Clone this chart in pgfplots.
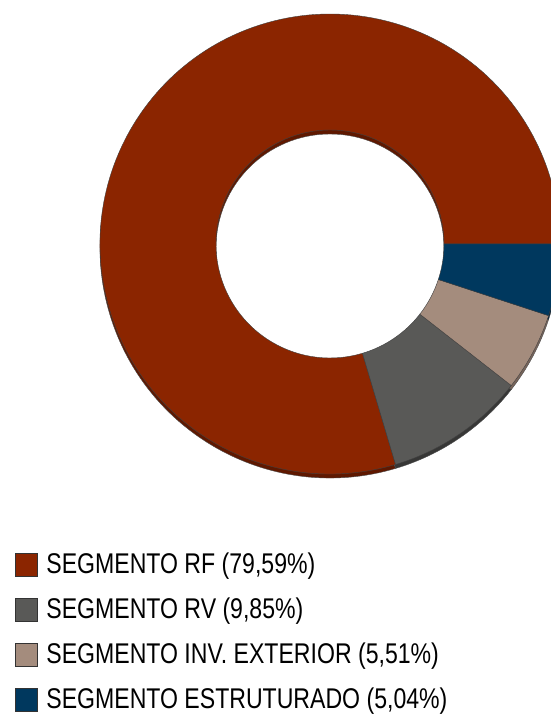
\documentclass[border=0pt]{standalone}
\usepackage{fontspec}
\setmainfont{Liberation Sans}[FakeStretch=0.81]
\usepackage{pgfplots}
\usepackage{pgfplotstable}
\pgfplotsset{compat=1.18}
\definecolor{cRF}{RGB}{139,37,0}
\definecolor{cRV}{RGB}{89,89,87}
\definecolor{cINV}{RGB}{164,140,125}
\definecolor{cEST}{RGB}{0,56,94}
\definecolor{dRF}{RGB}{95,24,0}
\definecolor{dRV}{RGB}{55,55,54}
\definecolor{dINV}{RGB}{120,100,90}
\definecolor{dEST}{RGB}{0,34,60}
\pgfplotstableread{
label value
RF 79.59
RV 9.85
INV 5.51
EST 5.04
}\datatable
\newcommand\getval[2]{\pgfplotstablegetelem{#1}{value}\of\datatable\let#2\pgfplotsretval}
% sector: start angle, end angle, style, y shift
\newcommand\sector[4]{%
  \path[#3] (axis cs:{330+230*cos(#1)},{471+#4+230*sin(#1)})
    arc[start angle=#1,end angle=#2,radius=230bp]
    -- (axis cs:{330+114*cos(#2)},{471+#4+114*sin(#2)})
    arc[start angle=#2,end angle=#1,radius=114bp] -- cycle;}
\begin{document}
\begin{tikzpicture}
\getval{0}\vRF \getval{1}\vRV \getval{2}\vINV \getval{3}\vEST
\pgfmathsetmacro\aA{0}
\pgfmathsetmacro\aB{\aA-3.6*\vEST}
\pgfmathsetmacro\aC{\aB-3.6*\vINV}
\pgfmathsetmacro\aD{\aC-3.6*\vRV}
\pgfmathsetmacro\aE{\aD-3.6*\vRF}
\begin{axis}[
  hide axis, scale only axis,
  x=1bp, y=1bp, xmin=0, xmax=551, ymin=0, ymax=715,
  at={(0,0)}, anchor=south west,
  legend image code/.code={\draw[#1] (0bp,-3bp) rectangle (22bp,20bp);},
  legend style={at={(axis description cs:0.02722,0.22727)}, anchor=north west,
    draw=none, fill=none, inner sep=0pt, outer sep=0pt, row sep=18bp,
    font=\fontsize{28.5bp}{32bp}\selectfont,
    nodes={inner sep=0pt, text height=21bp, text depth=6bp, anchor=base west},
    /tikz/every odd column/.append style={column sep=9bp}},
  legend cell align=left,
]
% depth (3D rim)
\sector{\aD}{\aE}{fill=dRF,draw=black!70,line width=0.4bp}{-4}
\sector{\aC}{\aD}{fill=dRV,draw=black!70,line width=0.4bp}{-4}
\sector{\aB}{\aC}{fill=dINV,draw=black!70,line width=0.4bp}{-4}
\sector{\aA}{\aB}{fill=dEST,draw=black!70,line width=0.4bp}{-4}
% top faces
\sector{\aD}{\aE}{fill=cRF,draw=black!75,line width=0.4bp}{0}
\sector{\aC}{\aD}{fill=cRV,draw=black!75,line width=0.4bp}{0}
\sector{\aB}{\aC}{fill=cINV,draw=black!75,line width=0.4bp}{0}
\sector{\aA}{\aB}{fill=cEST,draw=black!75,line width=0.4bp}{0}
\addlegendimage{fill=cRF,draw=black!80}
\addlegendentry{SEGMENTO RF (79,59\%)}
\addlegendimage{fill=cRV,draw=black!80}
\addlegendentry{SEGMENTO RV (9,85\%)}
\addlegendimage{fill=cINV,draw=black!80}
\addlegendentry{SEGMENTO INV. EXTERIOR (5,51\%)}
\addlegendimage{fill=cEST,draw=black!80}
\addlegendentry{SEGMENTO ESTRUTURADO (5,04\%)}
\end{axis}
\pgfresetboundingbox
\path[use as bounding box] (0,0) rectangle (551bp,715bp);
\end{tikzpicture}
\end{document}
